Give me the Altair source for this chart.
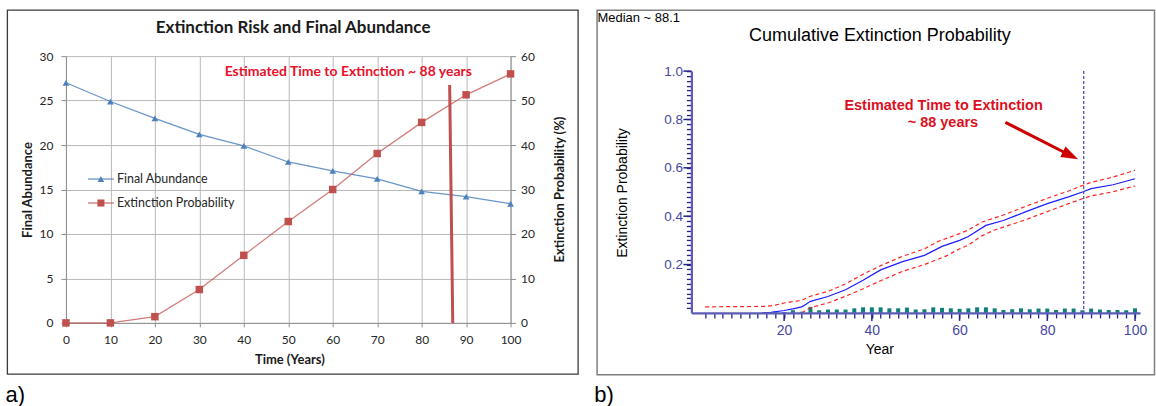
import altair as alt
import pandas as pd

# ---------------- Panel a data ----------------
years_a = [0, 10, 20, 30, 40, 50, 60, 70, 80, 90, 100]
final_abundance = [27.0, 24.9, 23.0, 21.2, 19.9, 18.1, 17.1, 16.2, 14.8, 14.2, 13.4]
ext_prob_pct = [0.0, 0.0, 1.4, 7.5, 15.2, 22.8, 30.0, 38.1, 45.1, 51.3, 56.0]
left_ticks = [0, 5, 10, 15, 20, 25, 30]
right_ticks = [0, 10, 20, 30, 40, 50, 60]
ette_line_a = {"x1": [86.3], "x2": [87.0], "y1": [53.5], "y2": [0.0]}
annot_a = {"x": [63.5], "y": [56.4], "label": ["Estimated Time to Extinction ~ 88 years"]}

# ---------------- Panel b data ----------------
median_years = [15, 17, 20, 22, 24, 25, 26, 30, 34, 38, 42, 47, 52, 56, 60, 62, 66, 70, 75, 80, 85, 88, 90, 95, 100]
median_vals = [0.0, 0.002, 0.010, 0.017, 0.025, 0.036, 0.048, 0.068, 0.096, 0.135, 0.178, 0.212, 0.238,
               0.275, 0.300, 0.316, 0.362, 0.382, 0.418, 0.452, 0.481, 0.500, 0.514, 0.530, 0.555]
upper_years = [2, 16, 18, 20, 24, 26, 30, 34, 38, 42, 47, 52, 55, 60, 62, 65, 70, 75, 80, 85, 88, 90, 95, 100]
upper_vals = [0.025, 0.027, 0.032, 0.041, 0.052, 0.069, 0.089, 0.120, 0.160, 0.195, 0.234, 0.265, 0.295,
              0.328, 0.343, 0.375, 0.405, 0.440, 0.474, 0.505, 0.527, 0.540, 0.562, 0.590]
lower_years = [24, 25, 26, 28, 30, 34, 38, 42, 47, 52, 57, 60, 62, 65, 68, 70, 75, 80, 85, 88, 90, 95, 100]
lower_vals = [0.0, 0.012, 0.021, 0.032, 0.041, 0.069, 0.100, 0.133, 0.172, 0.200, 0.236, 0.265, 0.280,
              0.318, 0.343, 0.355, 0.385, 0.419, 0.453, 0.472, 0.484, 0.501, 0.525]
bar_years = list(range(18, 101, 2))
bar_vals = [0.005, 0.004, 0.011, 0.005, 0.025, 0.011, 0.014, 0.014, 0.014, 0.019, 0.023, 0.023, 0.023,
            0.019, 0.019, 0.022, 0.014, 0.015, 0.023, 0.021, 0.019, 0.017, 0.019, 0.023, 0.023, 0.019,
            0.012, 0.015, 0.019, 0.015, 0.018, 0.018, 0.012, 0.018, 0.018, 0.011, 0.018, 0.014, 0.012,
            0.012, 0.011, 0.019]
median_ext_year = 88.3
x_ticks_b = list(range(2, 101, 2))
x_major_b = [20, 40, 60, 80, 100]
y_ticks_b = [round(i * 0.02, 2) for i in range(1, 51)]
y_major_b = [0.2, 0.4, 0.6, 0.8, 1.0]
arrow_b = {"x1": [70.45], "y1": [0.788], "x2": [85.3], "y2": [0.651]}
annot_b = {"x": [56.35, 56.2], "y": [0.856, 0.787], "label": ["Estimated Time to Extinction", "~ 88 years"]}

FA = "Lato"
FB = "Liberation Sans"
A_W, A_H = 445, 267
B_W, B_H = 449, 257

one = pd.DataFrame({"k": [0]})

# ================= Panel a =================
xA_scale = alt.Scale(domain=[0, 100], nice=False, zero=False)
xA_axis = alt.Axis(values=years_a, grid=True, gridColor="#b9b9b9", domainColor="#8e8e8e",
                   tickColor="#8e8e8e", tickSize=4, labelFont=FA, labelFontSize=12, labelColor="#262626",
                   labelPadding=8, labelFlush=False, title="Time (Years)", titleFont=FA, titleFontSize=13,
                   titleFontWeight="bold", titleColor="#1a1a1a", titleX=223.6, titleY=37,
                   titleBaseline="middle", titleAlign="center")
yL_scale = alt.Scale(domain=[0, 30], nice=False, zero=False)
yL_axis = alt.Axis(values=left_ticks, grid=True, gridColor="#b9b9b9", domainColor="#8e8e8e",
                   tickColor="#8e8e8e", tickSize=5, labelFont=FA, labelFontSize=12, labelColor="#262626",
                   labelPadding=8, title="Final Abundance", titleFont=FA, titleFontSize=13,
                   titleFontWeight="bold", titleColor="#1a1a1a", titleAngle=270, titleX=-38, titleY=133.5,
                   titleAlign="center", titleBaseline="middle", orient="left")
yR_scale = alt.Scale(domain=[0, 60], nice=False, zero=False)
yR_axis = alt.Axis(values=right_ticks, grid=False, domainColor="#8e8e8e", tickColor="#8e8e8e",
                   tickSize=5, labelFont=FA, labelFontSize=12, labelColor="#262626", labelPadding=5,
                   title="Extinction Probability (%)", titleFont=FA, titleFontSize=13,
                   titleFontWeight="bold", titleColor="#1a1a1a", titleAngle=270, titleX=49, titleY=133,
                   titleAlign="center", titleBaseline="middle", orient="right")


def xA(f):
    return alt.X(f, type="quantitative", scale=xA_scale, axis=xA_axis)


def yL(f):
    return alt.Y(f, type="quantitative", scale=yL_scale, axis=yL_axis)


def yR(f):
    return alt.Y(f, type="quantitative", scale=yR_scale, axis=yR_axis)


df_a = pd.DataFrame({"year": years_a, "abund": final_abundance, "prob": ext_prob_pct})

bgA = alt.Chart(one).mark_rect(fill="white", opacity=0, strokeWidth=0).encode(
    x=alt.value(-66), x2=alt.value(1090), y=alt.value(-56), y2=alt.value(350))
borderA = alt.Chart(one).mark_rect(fill="white", fillOpacity=0, stroke="#3a3a3a", strokeWidth=1.3).encode(
    x=alt.value(-58.6), x2=alt.value(512.6), y=alt.value(-46), y2=alt.value(318.3))
titleA = alt.Chart(one).mark_text(text="Extinction  Risk and Final Abundance", font=FA, fontSize=17,
                                  fontWeight="bold", color="#1a1a1a", align="center", baseline="middle").encode(
    x=alt.value(227.4), y=alt.value(-28))
labA = alt.Chart(one).mark_text(text="a)", font=FB, fontSize=22, color="black", align="left",
                                baseline="middle").encode(x=alt.value(-60.4), y=alt.value(339))

leg_rule1 = alt.Chart(one).mark_rule(color="#4f81bd", strokeWidth=1.3, opacity=0.85).encode(
    x=alt.value(22), x2=alt.value(48), y=alt.value(123))
leg_pt1 = alt.Chart(one).mark_point(shape="triangle-up", filled=True, size=45, color="#4f81bd", opacity=1).encode(
    x=alt.value(35), y=alt.value(123))
leg_txt1 = alt.Chart(one).mark_text(text="Final Abundance", font=FA, fontSize=12.5, color="#262626",
                                    align="left", baseline="middle").encode(x=alt.value(51), y=alt.value(123))
leg_rule2 = alt.Chart(one).mark_rule(color="#c0504d", strokeWidth=1.3, opacity=0.8).encode(
    x=alt.value(22), x2=alt.value(48), y=alt.value(147))
leg_pt2 = alt.Chart(one).mark_point(shape="square", filled=True, size=50, color="#c0504d", opacity=1).encode(
    x=alt.value(35), y=alt.value(147))
leg_txt2 = alt.Chart(one).mark_text(text="Extinction Probability", font=FA, fontSize=12.5, color="#262626",
                                    align="left", baseline="middle").encode(x=alt.value(51), y=alt.value(147))

blue_line = alt.Chart(df_a).mark_line(color="#4f81bd", strokeWidth=1.2, opacity=0.85).encode(
    x=xA("year"), y=yL("abund"))
blue_pts = alt.Chart(df_a).mark_point(shape="triangle-up", filled=True, size=45, color="#4f81bd", opacity=1).encode(
    x=xA("year"), y=yL("abund"))
left_layer = alt.layer(bgA, borderA, titleA, labA, blue_line, blue_pts,
                       leg_rule1, leg_pt1, leg_txt1, leg_rule2, leg_pt2, leg_txt2)

red_line = alt.Chart(df_a).mark_line(color="#c0504d", strokeWidth=1.3, opacity=0.75).encode(
    x=xA("year"), y=yR("prob"))
red_pts = alt.Chart(df_a).mark_point(shape="square", filled=True, size=56, color="#c0504d", opacity=1).encode(
    x=xA("year"), y=yR("prob"))
ette_rule = alt.Chart(pd.DataFrame(ette_line_a)).mark_rule(color="#c0504d", strokeWidth=3).encode(
    x=xA("x1"), x2="x2", y=yR("y1"), y2="y2")
annotA = alt.Chart(pd.DataFrame(annot_a)).mark_text(font=FA, fontSize=14, fontWeight="bold", color="#e8102a",
                                                    align="center", baseline="middle").encode(
    x=xA("x"), y=yR("y"), text="label:N")
right_layer = alt.layer(red_line, red_pts, ette_rule, annotA)

panelA = alt.layer(left_layer, right_layer).resolve_scale(y="independent").properties(width=A_W, height=A_H)

# ================= Panel b =================
TICK_C = "#23238a"
xB_scale = alt.Scale(domain=[0, 100], nice=False, zero=False)
xB_axis = alt.Axis(values=x_ticks_b, labelExpr="datum.value % 20 === 0 ? datum.label : ''",
                   tickSize=5, tickColor=TICK_C, tickWidth=1.3, domainColor="#5c5cb6", domainWidth=2.2,
                   labelFont=FB, labelFontSize=14, labelColor="#4545a5", labelPadding=6,
                   labelOverlap=False, labelFlush=False, grid=False, title="Year", titleFont=FB,
                   titleFontSize=14, titleFontWeight="normal", titleColor="black", titleX=188, titleY=37,
                   titleBaseline="middle", titleAlign="center", zindex=1)
yB_scale = alt.Scale(domain=[0, 1], range=[B_H, 15], nice=False, zero=False)
yB_axis = alt.Axis(values=y_ticks_b,
                   labelExpr="abs(datum.value * 5 - round(datum.value * 5)) < 0.001 ? format(datum.value, '.1f') : ''",
                   tickSize=5, tickColor=TICK_C, tickWidth=1.3, domainColor="#5c5cb6", domainWidth=2.2,
                   labelFont=FB, labelFontSize=13.5, labelColor="#4545a5", labelPadding=4,
                   labelOverlap=False, labelFlush=False, grid=False, title="Extinction Probability",
                   titleFont=FB, titleFontSize=14, titleFontWeight="normal", titleColor="black",
                   titleAngle=270, titleX=-69, titleY=136.5, titleAlign="center", titleBaseline="middle",
                   zindex=1)


def xB(f):
    return alt.X(f, type="quantitative", scale=xB_scale, axis=xB_axis)


def yB(f):
    return alt.Y(f, type="quantitative", scale=yB_scale, axis=yB_axis)


df_med = pd.DataFrame({"year": median_years, "p": median_vals})
df_ci = pd.concat([
    pd.DataFrame({"year": upper_years, "p": upper_vals, "s": "upper"}),
    pd.DataFrame({"year": lower_years, "p": lower_vals, "s": "lower"}),
])
df_bar = pd.DataFrame({"year": bar_years, "p": bar_vals})

borderB = alt.Chart(one).mark_rect(fill="white", fillOpacity=0, stroke="#7f7f7f", strokeWidth=1.5).encode(
    x=alt.value(-94.4), x2=alt.value(463.5), y=alt.value(-46), y2=alt.value(319))
medianTxt = alt.Chart(one).mark_text(text="Median ~ 88.1", font=FB, fontSize=13, color="black",
                                     align="left", baseline="middle").encode(x=alt.value(-94), y=alt.value(-38))
titleB = alt.Chart(one).mark_text(text="Cumulative Extinction Probability", font=FB, fontSize=18,
                                  color="black", align="center", baseline="middle").encode(
    x=alt.value(188.6), y=alt.value(-20))
labB = alt.Chart(one).mark_text(text="b)", font=FB, fontSize=22, color="black", align="left",
                                baseline="middle").encode(x=alt.value(-97.3), y=alt.value(339))

bars = alt.Chart(df_bar).mark_bar(color="#0f7f7a", size=4).encode(x=xB("year"), y=yB("p"))
ci = alt.Chart(df_ci).mark_line(color="#ff2020", strokeDash=[4, 3], strokeWidth=1.2).encode(
    x=xB("year"), y=yB("p"), detail="s:N")
med = alt.Chart(df_med).mark_line(color="#1c1cff", strokeWidth=1.2).encode(x=xB("year"), y=yB("p"))
vline = alt.Chart(pd.DataFrame({"x": [median_ext_year], "y1": [1.0], "y2": [0.0]})).mark_rule(
    color="#5252b4", strokeDash=[3, 2], strokeWidth=1.3).encode(x=xB("x"), y=yB("y1"), y2="y2")
arrow_line = alt.Chart(pd.DataFrame(arrow_b)).mark_rule(color="#cc0000", strokeWidth=3).encode(
    x=xB("x1"), y=yB("y1"), x2="x2", y2="y2")
arrow_head = alt.Chart(pd.DataFrame({"x": arrow_b["x2"], "y": arrow_b["y2"]})).mark_point(
    shape="M0,-1L0.7,1L-0.7,1Z", filled=True, color="#cc0000", size=289, angle=116.4, opacity=1).encode(
    x=xB("x"), y=yB("y"))
annotB = alt.Chart(pd.DataFrame(annot_b)).mark_text(font=FB, fontSize=14.5, fontWeight="bold",
                                                    color="#dc0f1e", align="center", baseline="middle").encode(
    x=xB("x"), y=yB("y"), text="label:N")
# longer major tick marks on both axes
maj_x = alt.Chart(pd.DataFrame({"t": x_major_b})).mark_rule(color=TICK_C, strokeWidth=1.5).encode(
    x=xB("t"), y=alt.value(B_H), y2=alt.value(B_H + 8))
maj_y = alt.Chart(pd.DataFrame({"t": y_major_b})).mark_rule(color=TICK_C, strokeWidth=1.5).encode(
    y=yB("t"), x=alt.value(0), x2=alt.value(-8))

panelB = alt.layer(borderB, medianTxt, titleB, labB, bars, ci, med, vline, arrow_line, arrow_head,
                   annotB, maj_x, maj_y).properties(width=B_W, height=B_H)

chart = alt.hconcat(panelA, panelB, spacing=181, bounds="flush").properties(padding=0).configure_view(
    strokeWidth=0)

chart.save("out.html", embed_options={"renderer": "svg", "actions": False})
